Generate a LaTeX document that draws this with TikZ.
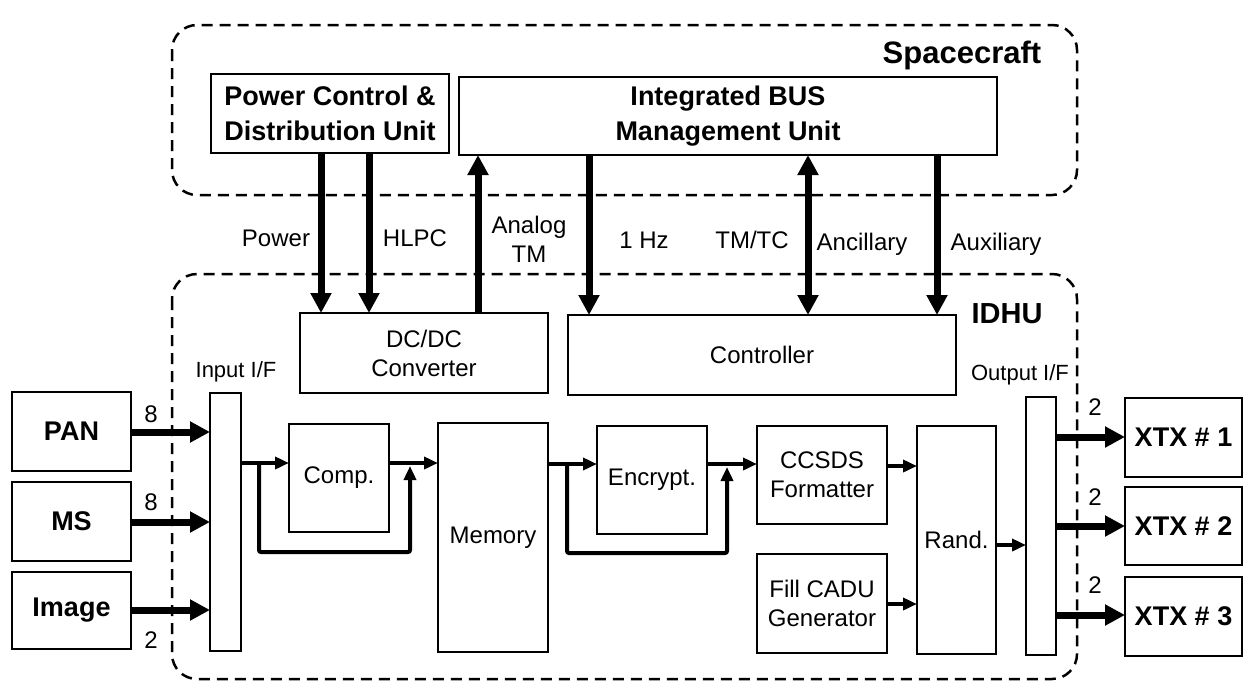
\documentclass[tikz,border=0pt]{standalone}
\usepackage{fontspec}
\setmainfont{Liberation Sans}
\usetikzlibrary{arrows.meta}
\begin{document}
\begin{tikzpicture}[x=1pt,y=-1pt,
  blk/.style={draw, line width=2pt, inner sep=0pt, outer sep=0pt, anchor=north west, align=center, font=\fontsize{24}{29}\selectfont},
  bblk/.style={blk, font=\fontsize{27}{35}\selectfont\bfseries},
  grp/.style={draw, line width=2.5pt, dash pattern=on 11pt off 7pt, rounded corners=25pt},
  bigarr/.style={line width=7pt, -{Triangle[width=20pt,length=20pt]}},
  bigdbl/.style={line width=7pt, {Triangle[width=20pt,length=20pt]}-{Triangle[width=20pt,length=20pt]}},
  smarr/.style={line width=4pt, -{Triangle[width=12pt,length=14pt]}},
  lbl/.style={anchor=base, inner sep=0pt, font=\fontsize{24}{29}\selectfont},
  slbl/.style={anchor=base, inner sep=0pt, font=\fontsize{22}{27}\selectfont},
  blbl/.style={anchor=base, inner sep=0pt, font=\bfseries}
]
\useasboundingbox (0,0) rectangle (1244,683);
\fill[white] (0,0) rectangle (1244,683);

% groups
\draw[grp] (172,25) rectangle (1077,195);
\draw[grp] (172,274) rectangle (1077,679);
\node[blbl, font=\fontsize{31}{36}\selectfont\bfseries] (tsc) at (962,63) {Spacecraft};
\node[blbl, font=\fontsize{29}{35}\selectfont\bfseries] (tidhu) at (1007,323) {IDHU};

% spacecraft units
\node[bblk, minimum width=238pt, minimum height=79pt] (pcdu) at (211,74) {Power Control \&\\Distribution Unit};
\node[bblk, minimum width=538pt, minimum height=78pt] (ibmu) at (459,77) {Integrated BUS\\Management Unit};

% IDHU units
\node[blk, minimum width=248pt, minimum height=80pt] (dcdc) at (300,313) {DC/DC\\Converter};
\node[blk, minimum width=388pt, minimum height=80pt] (ctrl) at (568,315) {Controller};
\node[blk, minimum width=31pt, minimum height=258pt] (inbar) at (210,393) {};
\node[blk, minimum width=100pt, minimum height=108pt] (comp) at (289,424) {Comp.};
\node[blk, minimum width=110pt, minimum height=229pt] (mem) at (438,423) {Memory};
\node[blk, minimum width=110pt, minimum height=108pt] (enc) at (597,426) {Encrypt.};
\node[blk, minimum width=130pt, minimum height=98pt] (ccsds) at (757,426) {CCSDS\\Formatter};
\node[blk, minimum width=130pt, minimum height=99pt] (fill) at (757,554) {Fill CADU\\Generator};
\node[blk, minimum width=79pt, minimum height=228pt] (rand) at (917,426) {Rand.};
\node[blk, minimum width=30pt, minimum height=258pt] (outbar) at (1026,397) {};

% external
\node[bblk, minimum width=119pt, minimum height=79pt] (pan) at (12,392) {PAN};
\node[bblk, minimum width=119pt, minimum height=79pt] (ms) at (12,482) {MS};
\node[bblk, minimum width=119pt, minimum height=77pt] (img) at (12,572) {Image};
\node[bblk, minimum width=117pt, minimum height=79pt] (x1) at (1125,398) {XTX \# 1};
\node[bblk, minimum width=117pt, minimum height=78pt] (x2) at (1125,487) {XTX \# 2};
\node[bblk, minimum width=117pt, minimum height=79pt] (x3) at (1125,577) {XTX \# 3};

% coordinates
\coordinate (xpow) at (321,0);
\coordinate (xhlpc) at (369,0);
\coordinate (xatm) at (478,0);
\coordinate (xhz) at (589,0);
\coordinate (xtmtc) at (808,0);
\coordinate (xaux) at (937,0);
\coordinate (ypan) at (0,432);
\coordinate (yms) at (0,522);
\coordinate (yimg) at (0,610);
\coordinate (yo1) at (0,437);
\coordinate (yo2) at (0,526);
\coordinate (yo3) at (0,615);
\coordinate (yrow) at (0,463);
\coordinate (yrow2) at (0,464);
\coordinate (ycc) at (0,466);
\coordinate (yfill) at (0,604);
\coordinate (yrand) at (0,545);

% bus arrows
\draw[bigarr] (pcdu.south -| xpow) -- (dcdc.north -| xpow);
\draw[bigarr] (pcdu.south -| xhlpc) -- (dcdc.north -| xhlpc);
\draw[bigarr] (dcdc.north -| xatm) -- (ibmu.south -| xatm);
\draw[bigarr] (ibmu.south -| xhz) -- (ctrl.north -| xhz);
\draw[bigdbl] (ibmu.south -| xtmtc) -- (ctrl.north -| xtmtc);
\draw[bigarr] (ibmu.south -| xaux) -- (ctrl.north -| xaux);

% bus labels
\node[lbl] (lpow) at (276,246) {Power};
\node[lbl] (lhlpc) at (415,246) {HLPC};
\node[anchor=north, inner sep=0pt, align=center, font=\fontsize{24}{29}\selectfont] (latm) at (529,216) {Analog\\TM};
\node[lbl] (lhz) at (644,248) {1 Hz};
\node[lbl] (ltmtc) at (752,248) {TM/TC};
\node[lbl] (lanc) at (862,250) {Ancillary};
\node[lbl] (laux) at (996,250) {Auxiliary};
\node[slbl] (lin) at (236,377) {Input I/F};
\node[slbl] (lout) at (1020,380) {Output I/F};

% inputs
\draw[bigarr] (pan.east |- ypan) -- (inbar.west |- ypan);
\draw[bigarr] (ms.east |- yms) -- (inbar.west |- yms);
\draw[bigarr] (img.east |- yimg) -- (inbar.west |- yimg);
\node[lbl] (n1) at (151,422) {8};
\node[lbl] (n2) at (151,510) {8};
\node[lbl] (n3) at (151,648) {2};

% outputs
\draw[bigarr] (outbar.east |- yo1) -- (x1.west |- yo1);
\draw[bigarr] (outbar.east |- yo2) -- (x2.west |- yo2);
\draw[bigarr] (outbar.east |- yo3) -- (x3.west |- yo3);
\node[lbl] (m1) at (1095,415) {2};
\node[lbl] (m2) at (1095,505) {2};
\node[lbl] (m3) at (1095,593) {2};

% data path
\draw[smarr] (inbar.east |- yrow) -- (comp.west |- yrow);
\draw[smarr] (comp.east |- yrow) -- (mem.west |- yrow);
\coordinate (b1a) at (259,463);
\coordinate (b1b) at (259,552);
\coordinate (b1c) at (410,552);
\coordinate (b1d) at (410,466);
\draw[smarr, rounded corners=2pt] (b1a) -- (b1b) -- (b1c) -- (b1d);
\draw[smarr] (mem.east |- yrow2) -- (enc.west |- yrow2);
\draw[smarr] (enc.east |- yrow2) -- (ccsds.west |- yrow2);
\coordinate (b2a) at (567,464);
\coordinate (b2b) at (567,553);
\coordinate (b2c) at (727,553);
\coordinate (b2d) at (727,467);
\draw[smarr, rounded corners=2pt] (b2a) -- (b2b) -- (b2c) -- (b2d);
\draw[smarr] (ccsds.east |- ycc) -- (rand.west |- ycc);
\draw[smarr] (fill.east |- yfill) -- (rand.west |- yfill);
\draw[smarr] (rand.east |- yrand) -- (outbar.west |- yrand);
\end{tikzpicture}
\end{document}
